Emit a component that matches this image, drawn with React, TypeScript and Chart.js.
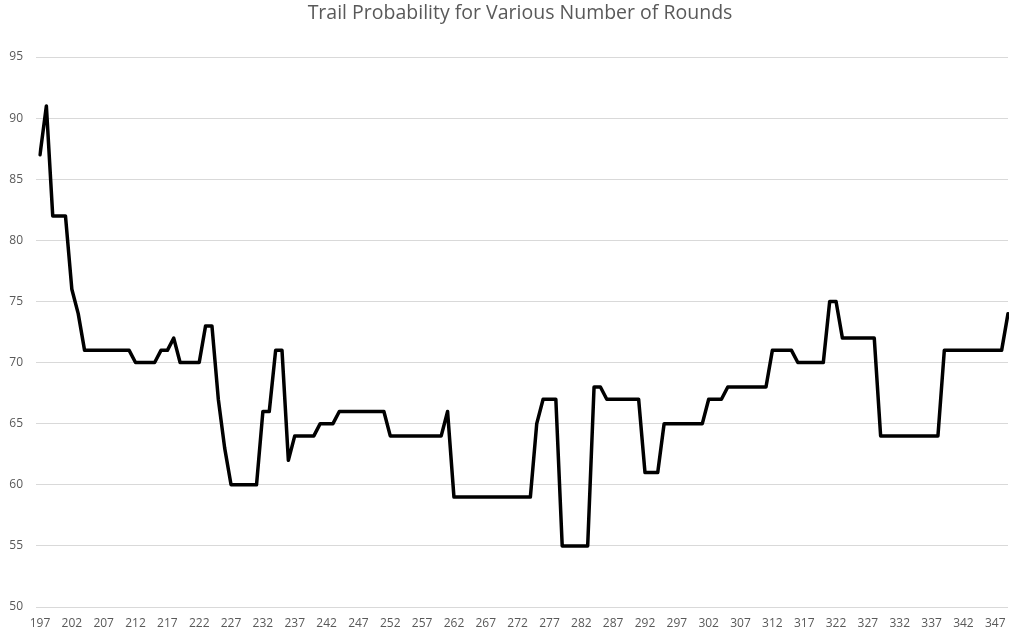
import { useEffect, useRef } from "react";
import { Chart, registerables } from "chart.js";

Chart.register(...registerables);

const chartTitle = "Trail Probability for Various Number of Rounds";

const rounds = [
  197, 198, 199, 200, 201, 202, 203, 204, 205, 206, 207, 208, 209, 210, 211, 212, 213, 214, 215, 216,
  217, 218, 219, 220, 221, 222, 223, 224, 225, 226, 227, 228, 229, 230, 231, 232, 233, 234, 235, 236,
  237, 238, 239, 240, 241, 242, 243, 244, 245, 246, 247, 248, 249, 250, 251, 252, 253, 254, 255, 256,
  257, 258, 259, 260, 261, 262, 263, 264, 265, 266, 267, 268, 269, 270, 271, 272, 273, 274, 275, 276,
  277, 278, 279, 280, 281, 282, 283, 284, 285, 286, 287, 288, 289, 290, 291, 292, 293, 294, 295, 296,
  297, 298, 299, 300, 301, 302, 303, 304, 305, 306, 307, 308, 309, 310, 311, 312, 313, 314, 315, 316,
  317, 318, 319, 320, 321, 322, 323, 324, 325, 326, 327, 328, 329, 330, 331, 332, 333, 334, 335, 336,
  337, 338, 339, 340, 341, 342, 343, 344, 345, 346, 347, 348, 349,
];

const probability = [
  87, 91, 82, 82, 82, 76, 74, 71, 71, 71, 71, 71, 71, 71, 71, 70, 70, 70, 70, 71,
  71, 72, 70, 70, 70, 70, 73, 73, 67, 63, 60, 60, 60, 60, 60, 66, 66, 71, 71, 62,
  64, 64, 64, 64, 65, 65, 65, 66, 66, 66, 66, 66, 66, 66, 66, 64, 64, 64, 64, 64,
  64, 64, 64, 64, 66, 59, 59, 59, 59, 59, 59, 59, 59, 59, 59, 59, 59, 59, 65, 67,
  67, 67, 55, 55, 55, 55, 55, 68, 68, 67, 67, 67, 67, 67, 67, 61, 61, 61, 65, 65,
  65, 65, 65, 65, 65, 67, 67, 67, 68, 68, 68, 68, 68, 68, 68, 71, 71, 71, 71, 70,
  70, 70, 70, 70, 75, 75, 72, 72, 72, 72, 72, 72, 64, 64, 64, 64, 64, 64, 64, 64,
  64, 64, 71, 71, 71, 71, 71, 71, 71, 71, 71, 71, 74,
];

const yMin = 50;
const yMax = 95;
const yStep = 5;
const xLabelEvery = 5;

const textColor = "#595959";
const gridColor = "#d9d9d9";
const fontFamily = "'Open Sans', 'Liberation Sans', sans-serif";

const titlePlugin = {
  id: "centeredTitle",
  afterDraw(chart: any) {
    const ctx = chart.ctx;
    const area = chart.chartArea;
    ctx.save();
    ctx.fillStyle = textColor;
    ctx.font = `normal 19.5px ${fontFamily}`;
    ctx.textAlign = "center";
    ctx.textBaseline = "middle";
    ctx.fillText(chartTitle, (area.left + area.right) / 2 - 4, 13);
    ctx.restore();
  },
};

export default function App() {
  const canvasRef = useRef<HTMLCanvasElement>(null);

  useEffect(() => {
    const chart = new Chart(canvasRef.current as HTMLCanvasElement, {
      type: "line",
      data: {
        labels: rounds.map(String),
        datasets: [
          {
            data: probability,
            borderColor: "#000000",
            borderWidth: 3.5,
            pointRadius: 0,
            tension: 0,
            fill: false,
            borderJoinStyle: "round",
            borderCapStyle: "round",
          },
        ],
      },
      options: {
        animation: false,
        responsive: true,
        maintainAspectRatio: false,
        layout: { padding: { left: 0, right: 1, top: 57, bottom: 0 } },
        plugins: {
          legend: { display: false },
          tooltip: { enabled: false },
          title: { display: false },
        },
        scales: {
          x: {
            grid: { display: false },
            border: { display: false },
            ticks: {
              autoSkip: false,
              maxRotation: 0,
              minRotation: 0,
              padding: 1,
              color: textColor,
              font: { family: fontFamily, size: 12 },
              callback: (_v: any, i: number) =>
                (rounds[i] - rounds[0]) % xLabelEvery === 0 ? String(rounds[i]) : "",
            },
            afterFit: (s: any) => {
              s.height = 28;
              s.paddingLeft = 0;
              s.paddingRight = 0;
            },
          },
          y: {
            min: yMin,
            max: yMax,
            ticks: {
              stepSize: yStep,
              padding: 13,
              color: textColor,
              font: { family: fontFamily, size: 12 },
            },
            grid: { color: gridColor, lineWidth: 1, tickLength: 4 },
            border: { display: false },
            afterFit: (s: any) => {
              s.width = 40;
              s.paddingTop = 0;
              s.paddingBottom = 0;
            },
          },
        },
      },
      plugins: [titlePlugin],
    } as any);
    return () => chart.destroy();
  }, []);

  return (
    <div style={{ position: "fixed", left: 0, top: 0, width: 1009, height: 635, background: "#ffffff" }}>
      <canvas ref={canvasRef} />
    </div>
  );
}
